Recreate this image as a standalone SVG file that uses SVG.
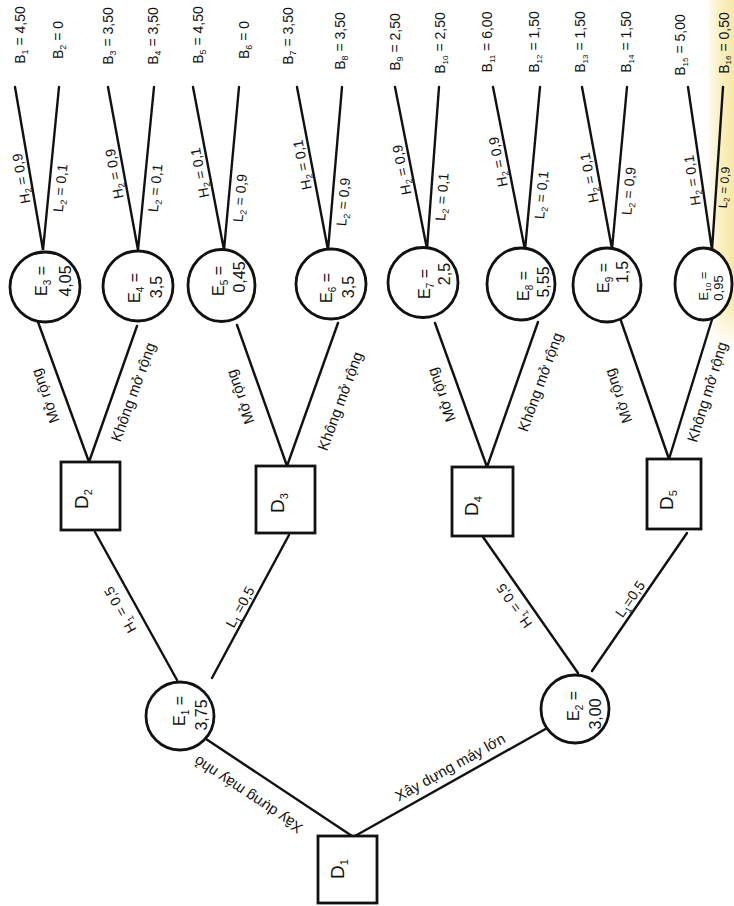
<svg xmlns="http://www.w3.org/2000/svg" width="734" height="906" viewBox="0 0 734 906">
<defs>
<linearGradient id="yl" x1="0" y1="0" x2="1" y2="0">
<stop offset="0" stop-color="#f8e9a6" stop-opacity="0"/>
<stop offset="0.5" stop-color="#f8e9a6" stop-opacity="0.7"/>
<stop offset="1" stop-color="#f6e59c" stop-opacity="0.9"/>
</linearGradient>
<linearGradient id="yv" x1="0" y1="0" x2="0" y2="1">
<stop offset="0" stop-color="#fff" stop-opacity="0"/>
<stop offset="0.85" stop-color="#fff" stop-opacity="0"/>
<stop offset="1" stop-color="#fff" stop-opacity="1"/>
</linearGradient>
</defs>
<style>
.ln{stroke:#111;stroke-width:2.4;fill:none;stroke-linecap:round}
.nd{stroke:#111;stroke-width:2.8;fill:#fff}
text{font-family:"Liberation Sans",Arial,sans-serif;fill:#111}
.b{font-size:14px}
.e{font-size:16px}
.e2{font-size:13px}
.d{font-size:19px}
.p{font-size:14px}
.lb{font-size:15px}
</style>
<rect width="734" height="906" fill="#fff"/>
<rect x="706" y="0" width="28" height="350" fill="url(#yl)"/>
<rect x="706" y="0" width="28" height="350" fill="url(#yv)"/>

<g id="connectors">
<line class="ln" x1="352" y1="836" x2="203" y2="737"/>
<line class="ln" x1="355" y1="836" x2="549" y2="727"/>
<line class="ln" x1="177" y1="680" x2="95" y2="532"/>
<line class="ln" x1="212" y1="678" x2="289" y2="535"/>
<line class="ln" x1="578" y1="673" x2="483" y2="537"/>
<line class="ln" x1="592" y1="671" x2="687" y2="533"/>
<line class="ln" x1="89" y1="462" x2="38" y2="322"/>
<line class="ln" x1="89" y1="462" x2="137" y2="326"/>
<line class="ln" x1="287" y1="466" x2="237" y2="325"/>
<line class="ln" x1="287" y1="466" x2="338" y2="323"/>
<line class="ln" x1="487" y1="467" x2="435" y2="323"/>
<line class="ln" x1="487" y1="467" x2="538" y2="322"/>
<line class="ln" x1="669" y1="459" x2="620" y2="318"/>
<line class="ln" x1="669" y1="459" x2="714" y2="313"/>
<polyline class="ln" points="15,87 43,250 59,87"/>
<polyline class="ln" points="108,87 138,250 154,87"/>
<polyline class="ln" points="193,87 224,250 239,87"/>
<polyline class="ln" points="297,87 328,250 342,87"/>
<polyline class="ln" points="395,87 427,249 439,87"/>
<polyline class="ln" points="493,87 525,250 540,87"/>
<polyline class="ln" points="582,87 612,249 627,87"/>
<polyline class="ln" points="688,87 712,250 723,87"/>

<g id="edge-labels">
<text class="lb" text-anchor="middle" transform="translate(248,795) rotate(-146.4)" y="5.4">Xây dựng máy nhỏ</text>
<text class="lb" text-anchor="middle" transform="translate(450,767) rotate(-29.1)" y="5.4">Xây dựng máy lớn</text>
<text class="p" text-anchor="middle" transform="translate(120,610) rotate(-119.3)" y="5">H<tspan font-size="9" dy="3">1</tspan><tspan dy="-3"> = 0,5</tspan></text>
<text class="p" text-anchor="middle" transform="translate(240,607) rotate(-61.5)" y="5">L<tspan font-size="9" dy="3">1</tspan><tspan dy="-3"> =0,5</tspan></text>
<text class="p" text-anchor="middle" transform="translate(514,606) rotate(-125.1)" y="5">H<tspan font-size="9" dy="3">1</tspan><tspan dy="-3"> = 0,5</tspan></text>
<text class="p" text-anchor="middle" transform="translate(630,599) rotate(-55.3)" y="5">L<tspan font-size="9" dy="3">1</tspan><tspan dy="-3">=0,5</tspan></text>
<text class="lb" text-anchor="middle" transform="translate(45,396) rotate(-110.2)" y="5.4">Mở rộng</text>
<text class="lb" text-anchor="middle" transform="translate(133,392) rotate(-69.9)" y="5.4">Không mở rộng</text>
<text class="lb" text-anchor="middle" transform="translate(240,397) rotate(-110.2)" y="5.4">Mở rộng</text>
<text class="lb" text-anchor="middle" transform="translate(340,401) rotate(-69.7)" y="5.4">Không mở rộng</text>
<text class="lb" text-anchor="middle" transform="translate(441,395) rotate(-110.4)" y="5.4">Mở rộng</text>
<text class="lb" text-anchor="middle" transform="translate(540,382) rotate(-70)" y="5.4">Không mở rộng</text>
<text class="lb" text-anchor="middle" transform="translate(618,396) rotate(-109.3)" y="5.4">Mở rộng</text>
<text class="lb" text-anchor="middle" transform="translate(707,392) rotate(-72.8)" y="5.4">Không mở rộng</text>
<text class="p" text-anchor="middle" transform="translate(30.5,177) rotate(-99.9)" y="-4.5">H<tspan font-size="9" dy="3">2</tspan><tspan dy="-3"> = 0,9</tspan></text>
<text class="p" text-anchor="middle" transform="translate(49.2,187) rotate(-84.3)" y="16">L<tspan font-size="9" dy="3">2</tspan><tspan dy="-3"> = 0,1</tspan></text>
<text class="p" text-anchor="middle" transform="translate(123.6,172) rotate(-100.6)" y="-4.5">H<tspan font-size="9" dy="3">2</tspan><tspan dy="-3"> = 0,9</tspan></text>
<text class="p" text-anchor="middle" transform="translate(144.2,187) rotate(-84.3)" y="16">L<tspan font-size="9" dy="3">2</tspan><tspan dy="-3"> = 0,1</tspan></text>
<text class="p" text-anchor="middle" transform="translate(209,171) rotate(-100.8)" y="-4.5">H<tspan font-size="9" dy="3">2</tspan><tspan dy="-3"> = 0,1</tspan></text>
<text class="p" text-anchor="middle" transform="translate(228.9,197) rotate(-84.7)" y="16">L<tspan font-size="9" dy="3">2</tspan><tspan dy="-3"> = 0,9</tspan></text>
<text class="p" text-anchor="middle" transform="translate(311.4,163) rotate(-100.8)" y="-4.5">H<tspan font-size="9" dy="3">2</tspan><tspan dy="-3"> = 0,1</tspan></text>
<text class="p" text-anchor="middle" transform="translate(332.2,201) rotate(-85.1)" y="16">L<tspan font-size="9" dy="3">2</tspan><tspan dy="-3"> = 0,9</tspan></text>
<text class="p" text-anchor="middle" transform="translate(411,168) rotate(-101.3)" y="-4.5">H<tspan font-size="9" dy="3">2</tspan><tspan dy="-3"> = 0,9</tspan></text>
<text class="p" text-anchor="middle" transform="translate(430.9,196) rotate(-85.7)" y="16">L<tspan font-size="9" dy="3">2</tspan><tspan dy="-3"> = 0,1</tspan></text>
<text class="p" text-anchor="middle" transform="translate(507.3,160) rotate(-101.2)" y="-4.5">H<tspan font-size="9" dy="3">2</tspan><tspan dy="-3"> = 0,9</tspan></text>
<text class="p" text-anchor="middle" transform="translate(530.2,194) rotate(-84.7)" y="16">L<tspan font-size="9" dy="3">2</tspan><tspan dy="-3"> = 0,1</tspan></text>
<text class="p" text-anchor="middle" transform="translate(598.5,176) rotate(-100.6)" y="-4.5">H<tspan font-size="9" dy="3">2</tspan><tspan dy="-3"> = 0,1</tspan></text>
<text class="p" text-anchor="middle" transform="translate(617.5,190) rotate(-84.6)" y="16">L<tspan font-size="9" dy="3">2</tspan><tspan dy="-3"> = 0,9</tspan></text>
<text class="p" text-anchor="middle" transform="translate(701.5,179) rotate(-98.4)" y="-4.5">H<tspan font-size="9" dy="3">2</tspan><tspan dy="-3"> = 0,1</tspan></text>
<text class="p" text-anchor="middle" style="font-size:12px" transform="translate(716.3,187) rotate(-86.1)" y="12">L<tspan font-size="8" dy="2">2</tspan><tspan dy="-2"> = 0,9</tspan></text>
</g>
</g>

<g id="D1"><rect class="nd" x="318" y="836" width="59" height="67"/><text class="d" text-anchor="middle" transform="translate(344,869) rotate(-90)">D<tspan font-size="11" dy="4">1</tspan></text></g>
<g id="D2"><rect class="nd" x="61" y="462" width="59" height="68"/><text class="d" text-anchor="middle" transform="translate(88,499) rotate(-90)">D<tspan font-size="11" dy="4">2</tspan></text></g>
<g id="D3"><rect class="nd" x="256" y="466" width="59" height="67"/><text class="d" text-anchor="middle" transform="translate(284,503) rotate(-90)">D<tspan font-size="11" dy="4">3</tspan></text></g>
<g id="D4"><rect class="nd" x="452" y="467" width="61" height="69"/><text class="d" text-anchor="middle" transform="translate(478,506) rotate(-90)">D<tspan font-size="11" dy="4">4</tspan></text></g>
<g id="D5"><rect class="nd" x="647" y="459" width="54" height="70"/><text class="d" text-anchor="middle" transform="translate(673,500) rotate(-90)">D<tspan font-size="11" dy="4">5</tspan></text></g>

<g id="E1"><circle class="nd" cx="180" cy="716" r="34"/><text class="e" text-anchor="middle" transform="translate(185,711) rotate(-90)">E<tspan font-size="10" dy="4">1</tspan><tspan dy="-4"> =</tspan></text><text class="e" text-anchor="middle" transform="translate(207,715) rotate(-90)">3,75</text></g>
<g id="E2"><circle class="nd" cx="575" cy="709" r="34"/><text class="e" text-anchor="middle" transform="translate(579,706) rotate(-90)">E<tspan font-size="10" dy="4">2</tspan><tspan dy="-4"> =</tspan></text><text class="e" text-anchor="middle" transform="translate(601,714) rotate(-90)">3,00</text></g>
<g id="E3"><circle class="nd" cx="45" cy="287" r="35"/><text class="e" text-anchor="middle" transform="translate(47,281) rotate(-90)">E<tspan font-size="10" dy="4">3</tspan><tspan dy="-4"> =</tspan></text><text class="e" text-anchor="middle" transform="translate(71,281) rotate(-90)">4,05</text></g>
<g id="E4"><circle class="nd" cx="138" cy="286" r="35"/><text class="e" text-anchor="middle" transform="translate(140,288) rotate(-90)">E<tspan font-size="10" dy="4">4</tspan><tspan dy="-4"> =</tspan></text><text class="e" text-anchor="middle" transform="translate(162,287) rotate(-90)">3,5</text></g>
<g id="E5"><ellipse class="nd" cx="221.5" cy="285.5" rx="33.5" ry="36"/><text class="e" text-anchor="middle" transform="translate(224,281) rotate(-90)">E<tspan font-size="10" dy="4">5</tspan><tspan dy="-4"> =</tspan></text><text class="e" text-anchor="middle" transform="translate(245,277) rotate(-90)">0,45</text></g>
<g id="E6"><circle class="nd" cx="331" cy="284" r="35"/><text class="e" text-anchor="middle" transform="translate(332,288) rotate(-90)">E<tspan font-size="10" dy="4">6</tspan><tspan dy="-4"> =</tspan></text><text class="e" text-anchor="middle" transform="translate(354,287) rotate(-90)">3,5</text></g>
<g id="E7"><circle class="nd" cx="423" cy="282.5" r="35"/><text class="e" text-anchor="middle" transform="translate(430,284) rotate(-90)">E<tspan font-size="10" dy="4">7</tspan><tspan dy="-4"> =</tspan></text><text class="e" text-anchor="middle" transform="translate(450,274) rotate(-90)">2,5</text></g>
<g id="E8"><ellipse class="nd" cx="521" cy="284" rx="34" ry="36"/><text class="e" text-anchor="middle" transform="translate(529,286) rotate(-90)">E<tspan font-size="10" dy="4">8</tspan><tspan dy="-4"> =</tspan></text><text class="e" text-anchor="middle" transform="translate(549,282) rotate(-90)">5,55</text></g>
<g id="E9"><ellipse class="nd" cx="607" cy="285" rx="34" ry="37"/><text class="e" text-anchor="middle" transform="translate(609,278) rotate(-90)">E<tspan font-size="10" dy="4">9</tspan><tspan dy="-4"> =</tspan></text><text class="e" text-anchor="middle" transform="translate(628,272) rotate(-90)">1,5</text></g>
<g id="E10"><ellipse class="nd" cx="703.5" cy="284" rx="28.5" ry="36"/><text class="e2" text-anchor="middle" transform="translate(708,286) rotate(-90)">E<tspan font-size="8" dy="3">10</tspan><tspan dy="-3"> =</tspan></text><text class="e2" text-anchor="middle" transform="translate(723,288) rotate(-90)">0,95</text></g>

<g id="B-values">
<text class="b" text-anchor="middle" transform="translate(25,35) rotate(-90)">B<tspan font-size="9" dy="3">1</tspan><tspan dy="-3"> = 4,50</tspan></text>
<text class="b" text-anchor="middle" transform="translate(63,40) rotate(-90)">B<tspan font-size="9" dy="3">2</tspan><tspan dy="-3"> = 0</tspan></text>
<text class="b" text-anchor="middle" transform="translate(113,36) rotate(-90)">B<tspan font-size="9" dy="3">3</tspan><tspan dy="-3"> = 3,50</tspan></text>
<text class="b" text-anchor="middle" transform="translate(158,36) rotate(-90)">B<tspan font-size="9" dy="3">4</tspan><tspan dy="-3"> = 3,50</tspan></text>
<text class="b" text-anchor="middle" transform="translate(203,35) rotate(-90)">B<tspan font-size="9" dy="3">5</tspan><tspan dy="-3"> = 4,50</tspan></text>
<text class="b" text-anchor="middle" transform="translate(249,40) rotate(-90)">B<tspan font-size="9" dy="3">6</tspan><tspan dy="-3"> = 0</tspan></text>
<text class="b" text-anchor="middle" transform="translate(293,36) rotate(-90)">B<tspan font-size="9" dy="3">7</tspan><tspan dy="-3"> = 3,50</tspan></text>
<text class="b" text-anchor="middle" transform="translate(345,41) rotate(-90)">B<tspan font-size="9" dy="3">8</tspan><tspan dy="-3"> = 3,50</tspan></text>
<text class="b" text-anchor="middle" transform="translate(400,42) rotate(-90)">B<tspan font-size="9" dy="3">9</tspan><tspan dy="-3"> = 2,50</tspan></text>
<text class="b" text-anchor="middle" transform="translate(445,43) rotate(-90)">B<tspan font-size="8" dy="3">10</tspan><tspan dy="-3"> = 2,50</tspan></text>
<text class="b" text-anchor="middle" transform="translate(492,42) rotate(-90)">B<tspan font-size="8" dy="3">11</tspan><tspan dy="-3"> = 6,00</tspan></text>
<text class="b" text-anchor="middle" transform="translate(539,42) rotate(-90)">B<tspan font-size="8" dy="3">12</tspan><tspan dy="-3"> = 1,50</tspan></text>
<text class="b" text-anchor="middle" transform="translate(585,42) rotate(-90)">B<tspan font-size="8" dy="3">13</tspan><tspan dy="-3"> = 1,50</tspan></text>
<text class="b" text-anchor="middle" transform="translate(631,42) rotate(-90)">B<tspan font-size="8" dy="3">14</tspan><tspan dy="-3"> = 1,50</tspan></text>
<text class="b" text-anchor="middle" transform="translate(685,45) rotate(-90)">B<tspan font-size="8" dy="3">15</tspan><tspan dy="-3"> = 5,00</tspan></text>
<text class="b" text-anchor="middle" transform="translate(729,43) rotate(-90)">B<tspan font-size="8" dy="2">16</tspan><tspan dy="-2"> = 0,50</tspan></text>
</g>
</svg>
